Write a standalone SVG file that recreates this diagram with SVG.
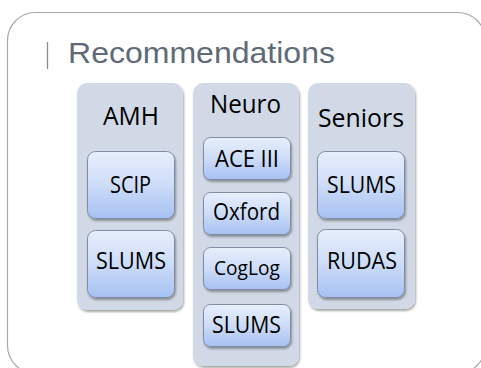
<svg xmlns="http://www.w3.org/2000/svg" width="481" height="368" viewBox="0 0 481 368">
<defs>
<linearGradient id="boxGrad" x1="0" y1="0" x2="0" y2="1">
<stop offset="0" stop-color="#e8effc"/>
<stop offset="0.5" stop-color="#cddcf8"/>
<stop offset="1" stop-color="#a6c1f3"/>
</linearGradient>
<filter id="shadow" x="-10%" y="-10%" width="130%" height="130%">
<feGaussianBlur in="SourceAlpha" stdDeviation="1.2"/>
<feOffset dx="0.5" dy="1.5" result="b"/>
<feComponentTransfer><feFuncA type="linear" slope="0.35"/></feComponentTransfer>
<feMerge><feMergeNode/><feMergeNode in="SourceGraphic"/></feMerge>
</filter>
</defs>
<style>
.frame{fill:#ffffff;stroke:#a8a8a8;stroke-width:1.2}
.col{fill:#d2d9e6;filter:url(#shadow)}
.box{fill:url(#boxGrad);stroke:#7f8ca3;stroke-width:1;filter:url(#shadow)}
.hdr{font-family:"Open Sans","Noto Sans",sans-serif;font-size:25px;fill:#000;text-anchor:middle}
.lbl{font-family:"Open Sans","Noto Sans",sans-serif;font-size:23.5px;fill:#000;text-anchor:middle}
.title{font-family:"Liberation Sans",Arial,sans-serif;font-size:29.5px;fill:#5e6a77}
</style>
<rect class="frame" x="7.5" y="12.5" width="478" height="361" rx="28"/>
<g id="title">
<line x1="47.5" y1="42" x2="47.5" y2="69" stroke="#8a8a8a" stroke-width="1.3"/>
<text class="title" x="68" y="63" textLength="267" lengthAdjust="spacingAndGlyphs">Recommendations</text>
</g>
<g id="amh">
<rect class="col" x="77" y="83" width="106" height="227" rx="10"/>
<text class="hdr" x="131" y="125" textLength="56" lengthAdjust="spacingAndGlyphs">AMH</text>
</g>
<g id="amh-scip">
<rect class="box" x="87.5" y="151.5" width="87" height="67" rx="8"/>
<text class="lbl" x="130.5" y="193" textLength="41" lengthAdjust="spacingAndGlyphs">SCIP</text>
</g>
<g id="amh-slums">
<rect class="box" x="87.5" y="230.5" width="87" height="67" rx="8"/>
<text class="lbl" x="131" y="269" textLength="70" lengthAdjust="spacingAndGlyphs">SLUMS</text>
</g>
<g id="neuro">
<rect class="col" x="193" y="83" width="106" height="283" rx="10"/>
<text class="hdr" x="245.5" y="113" textLength="71" lengthAdjust="spacingAndGlyphs">Neuro</text>
</g>
<g id="neuro-ace">
<rect class="box" x="203.5" y="137.5" width="87" height="42" rx="7"/>
<text class="lbl" x="247" y="167" textLength="64" lengthAdjust="spacingAndGlyphs">ACE III</text>
</g>
<g id="neuro-oxford">
<rect class="box" x="203.5" y="192.5" width="87" height="42" rx="7"/>
<text class="lbl" x="246.5" y="220" textLength="67" lengthAdjust="spacingAndGlyphs">Oxford</text>
</g>
<g id="neuro-coglog">
<rect class="box" x="203.5" y="247.5" width="87" height="42" rx="7"/>
<text class="lbl" x="247" y="275" style="font-size:20.5px" textLength="66" lengthAdjust="spacingAndGlyphs">CogLog</text>
</g>
<g id="neuro-slums">
<rect class="box" x="203.5" y="304.5" width="87" height="42" rx="7"/>
<text class="lbl" x="246.5" y="333" textLength="69" lengthAdjust="spacingAndGlyphs">SLUMS</text>
</g>
<g id="seniors">
<rect class="col" x="308" y="83" width="107" height="226" rx="10"/>
<text class="hdr" x="361" y="127" textLength="86" lengthAdjust="spacingAndGlyphs">Seniors</text>
</g>
<g id="seniors-slums">
<rect class="box" x="317.5" y="151.5" width="87" height="67" rx="8"/>
<text class="lbl" x="361.5" y="193" textLength="69" lengthAdjust="spacingAndGlyphs">SLUMS</text>
</g>
<g id="seniors-rudas">
<rect class="box" x="317.5" y="229.5" width="87" height="68" rx="8"/>
<text class="lbl" x="362" y="269" textLength="70" lengthAdjust="spacingAndGlyphs">RUDAS</text>
</g>
<g id="connectors"></g>
</svg>
